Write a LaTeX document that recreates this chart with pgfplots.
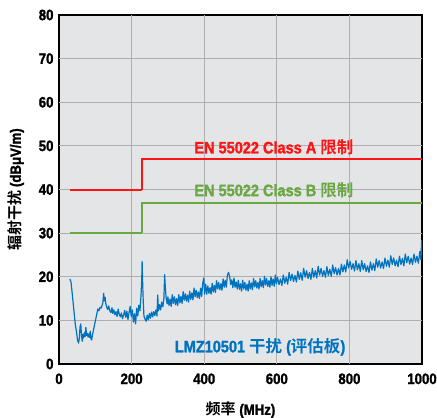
\documentclass[border=0pt]{standalone}
\usepackage{pgfplots}
\pgfplotsset{compat=1.18}
\usepackage{fontspec}
\setmainfont{Liberation Sans}[UprightFont={* Bold}, BoldFont={* Bold}, FakeStretch=0.88, UprightFeatures={FakeBold=1.5}, BoldFeatures={FakeBold=1.5}]
\newfontfamily\cjk{Noto Sans CJK SC}[UprightFont={* Bold}, BoldFont={* Bold}]
\definecolor{bgc}{HTML}{E4E5E7}
\definecolor{gridc}{HTML}{AFAFB1}
\definecolor{redc}{HTML}{FF1414}
\definecolor{greenc}{HTML}{6AA842}
\definecolor{bluec}{HTML}{0073C0}
\begin{document}
\begin{tikzpicture}
\useasboundingbox (-59pt,-54pt) rectangle (378pt,364pt);
\begin{axis}[
  at={(0,0)}, anchor=south west,
  scale only axis, width=363pt, height=349pt,
  xmin=0, xmax=1000, ymin=0, ymax=80,
  xtick={0,200,...,1000}, ytick={0,10,...,80},
  major tick length=0pt,
  axis background/.style={fill=bgc},
  axis line style={black, line width=2.4pt},
  /pgf/number format/assume math mode=true,
  /pgf/number format/1000 sep={},
  tick label style={font=\fontsize{15}{15}\selectfont},
  yticklabel style={xshift=-2pt},
  xticklabel style={yshift=-6pt},
  xlabel={\fontsize{15}{15}\selectfont{\cjk 频率} (MHz)},
  ylabel={\fontsize{15}{15}\selectfont{\cjk 辐射干扰} (dBμV/m)},
  xlabel style={at={(axis description cs:0.5,0)}, anchor=center, yshift=-46pt},
  ylabel style={at={(axis description cs:0,0.5)}, anchor=center, xshift=0pt, yshift=43pt},
  clip=true,
]
% grid lines
\addplot[gridc, line width=1pt, forget plot] coordinates {(200,0) (200,80)};
\addplot[gridc, line width=1pt, forget plot] coordinates {(400,0) (400,80)};
\addplot[gridc, line width=1pt, forget plot] coordinates {(600,0) (600,80)};
\addplot[gridc, line width=1pt, forget plot] coordinates {(800,0) (800,80)};
\addplot[gridc, line width=1pt, forget plot] coordinates {(0,10) (1000,10)};
\addplot[gridc, line width=1pt, forget plot] coordinates {(0,20) (1000,20)};
\addplot[gridc, line width=1pt, forget plot] coordinates {(0,30) (30,30)};
\addplot[gridc, line width=1pt, forget plot] coordinates {(230,30) (1000,30)};
\addplot[gridc, line width=1pt, forget plot] coordinates {(0,40) (30,40)};
\addplot[gridc, line width=1pt, forget plot] coordinates {(230,40) (1000,40)};
\addplot[gridc, line width=1pt, forget plot] coordinates {(0,50) (1000,50)};
\addplot[gridc, line width=1pt, forget plot] coordinates {(0,60) (1000,60)};
\addplot[gridc, line width=1pt, forget plot] coordinates {(0,70) (1000,70)};
% limits
\addplot[redc, line width=2pt] coordinates {(30,40) (230,40)};
\addplot[redc, line width=2pt] coordinates {(230,40) (230,47) (1000,47)};
\addplot[greenc, line width=2pt] coordinates {(30,30) (230,30)};
\addplot[greenc, line width=2pt] coordinates {(230,30) (230,37) (1000,37)};
\addplot[bluec, line width=1.2pt, line join=round] coordinates {
(30,19.5) (33,18.8) (36,16.5) (39,14) (42,11.5) (45,9) (48,7.5) (51,5.5) (54,4.8) (56,6)
(58,8.5) (60,9.2) (62,6.5) (64,5.2) (66,6.8) (68,6) (70,7.2) (72,6.3) (74,8.4) (76,6.5)
(78,7.0) (80,6.2) (82,6.9) (84,6.1) (86,7.5) (88,5.8) (90,5.5) (92,6.6) (95,7.8) (98,9.0)
(101,10.2) (104,11.4) (107,12.6) (110,12.2) (113,13) (116,12.8) (119,13.5) (121,14.2) (123,16.2) (125,14.5)
(127,15.3) (129,13.8) (131,13.2) (134,12.5) (137,13.3) (140,12.2) (143,11.8) (146,12.9) (148,11.6) (151,12.4)
(154,11.3) (157,12.0) (160,10.9) (163,12.6) (166,11.4) (169,10.8) (172,11.7) (175,10.4) (178,11.2) (181,12.3)
(184,10.7) (187,12.1) (190,10.2) (193,11.8) (196,13.2) (199,10.9) (202,12.4) (205,9.6) (208,11.5) (211,9.2)
(214,12.8) (217,11.0) (220,13.5) (223,12.2) (226,15.8) (228,19.5) (229,23.5) (230,20.0) (232,14.5) (234,11.0)
(237,10.3) (240,9.8) (243,11.2) (246,10.1) (249,11.6) (252,10.5) (255,11.9) (258,10.8) (261,12.0) (264,11.1)
(267,12.4) (270,11.0) (272,15.8) (274,12.2) (277,13.6) (280,12.4) (283,14.2) (286,13.1) (289,15.0) (291,20.5)
(293,17.5) (295,15.2) (298,13.8)
(300,15.4) (303,13.4) (306,14.9) (309,13.2) (312,15.9) (315,13.9) (318,15.4) (321,13.6) (324,15.0) (327,13.4)
(330,15.9) (333,14.0) (336,15.5) (339,13.9) (342,16.6) (345,14.6) (348,16.1) (351,14.4) (354,15.8) (357,14.2)
(360,16.7) (363,14.8) (366,16.3) (369,14.7) (372,17.4) (375,15.4) (378,16.9) (381,15.2) (384,16.5) (387,15.0)
(390,17.4) (393,15.5) (396,18.5) (399,19.7) (401,16.0) (404,18.3) (407,16.0) (410,17.9) (413,16.2) (416,17.5)
(419,16.0) (422,18.5) (425,16.5) (428,18.0) (431,16.4) (434,19.1) (437,17.2) (440,18.7) (443,17.0) (446,18.4)
(449,16.9) (452,19.5) (455,17.6) (458,19.2) (461,17.6) (464,20.4) (467,21.0) (470,20.1) (473,18.2) (476,19.3)
(479,17.5) (482,19.7) (485,17.6) (488,18.8) (491,17.2) (494,19.2) (497,17.1) (500,18.4) (503,16.7) (506,19.2)
(509,17.2) (512,18.7) (515,16.9) (518,18.3) (521,16.7) (524,19.1) (527,17.2) (530,18.6) (533,17.0) (536,19.6)
(539,17.7) (542,19.1) (545,17.4) (548,18.7) (551,17.2) (554,19.6) (557,17.7) (560,19.1) (563,17.5) (566,20.1)
(569,18.1) (572,19.6) (575,17.8) (578,19.1) (581,17.6) (584,20.0) (587,18.0) (590,19.5) (593,17.8) (596,20.4)
(599,18.4)
(602,19.9) (606,18.2) (610,19.5) (614,18.0) (618,20.4) (622,18.5) (626,19.9) (630,18.3) (634,21.0) (638,19.1)
(642,20.6) (646,18.9) (650,20.3) (654,18.8) (658,21.3) (662,19.4) (666,20.9) (670,19.2) (674,21.9) (678,19.9)
(682,21.4) (686,19.6) (690,21.0) (694,19.4) (698,21.9) (702,19.9) (706,21.4) (710,19.7) (714,22.4) (718,20.4)
(722,21.9) (726,20.1) (730,21.4) (734,19.9) (738,22.3) (742,20.3) (746,21.7) (750,20.1) (754,22.7) (758,20.7)
(762,22.1) (766,20.4) (770,21.9) (774,20.4) (778,22.9) (782,21.1) (786,22.7) (790,21.1) (794,23.9) (798,22.0)
(802,23.5) (806,21.7) (810,23.0) (814,21.3) (818,23.7) (822,21.6) (826,23.0) (830,21.2) (834,23.7) (838,21.6)
(842,23.0) (846,21.2) (850,22.5) (854,21.0) (858,23.4) (862,21.5) (866,23.0) (870,21.4) (874,24.1) (878,22.2)
(882,23.7) (886,22.0) (890,23.4) (894,21.9) (898,24.3) (902,22.4) (906,23.8) (910,22.2) (914,24.8) (918,22.8)
(922,24.3) (926,22.5) (930,23.8) (934,22.3) (938,24.7) (942,22.8) (946,24.2) (950,22.5) (954,25.2) (958,23.2)
(962,24.7) (966,22.9) (970,24.3) (974,22.8) (978,25.2) (982,23.3) (986,24.7) (990,23.1) (994,25.8) (997,23.9)
(999,28.3) (1000,25.0)
};
\node[text=redc, font=\fontsize{16.5}{16.5}\selectfont] at (axis cs:592,49.7) {EN 55022 Class A {\cjk 限制}};
\node[text=greenc, font=\fontsize{16.5}{16.5}\selectfont] at (axis cs:592,39.9) {EN 55022 Class B {\cjk 限制}};
\node[text=bluec, font=\fontsize{16.5}{16.5}\selectfont] at (axis cs:554,3.9) {LMZ10501 {\cjk 干扰} ({\cjk 评估板})};
\end{axis}
\end{tikzpicture}
\end{document}
